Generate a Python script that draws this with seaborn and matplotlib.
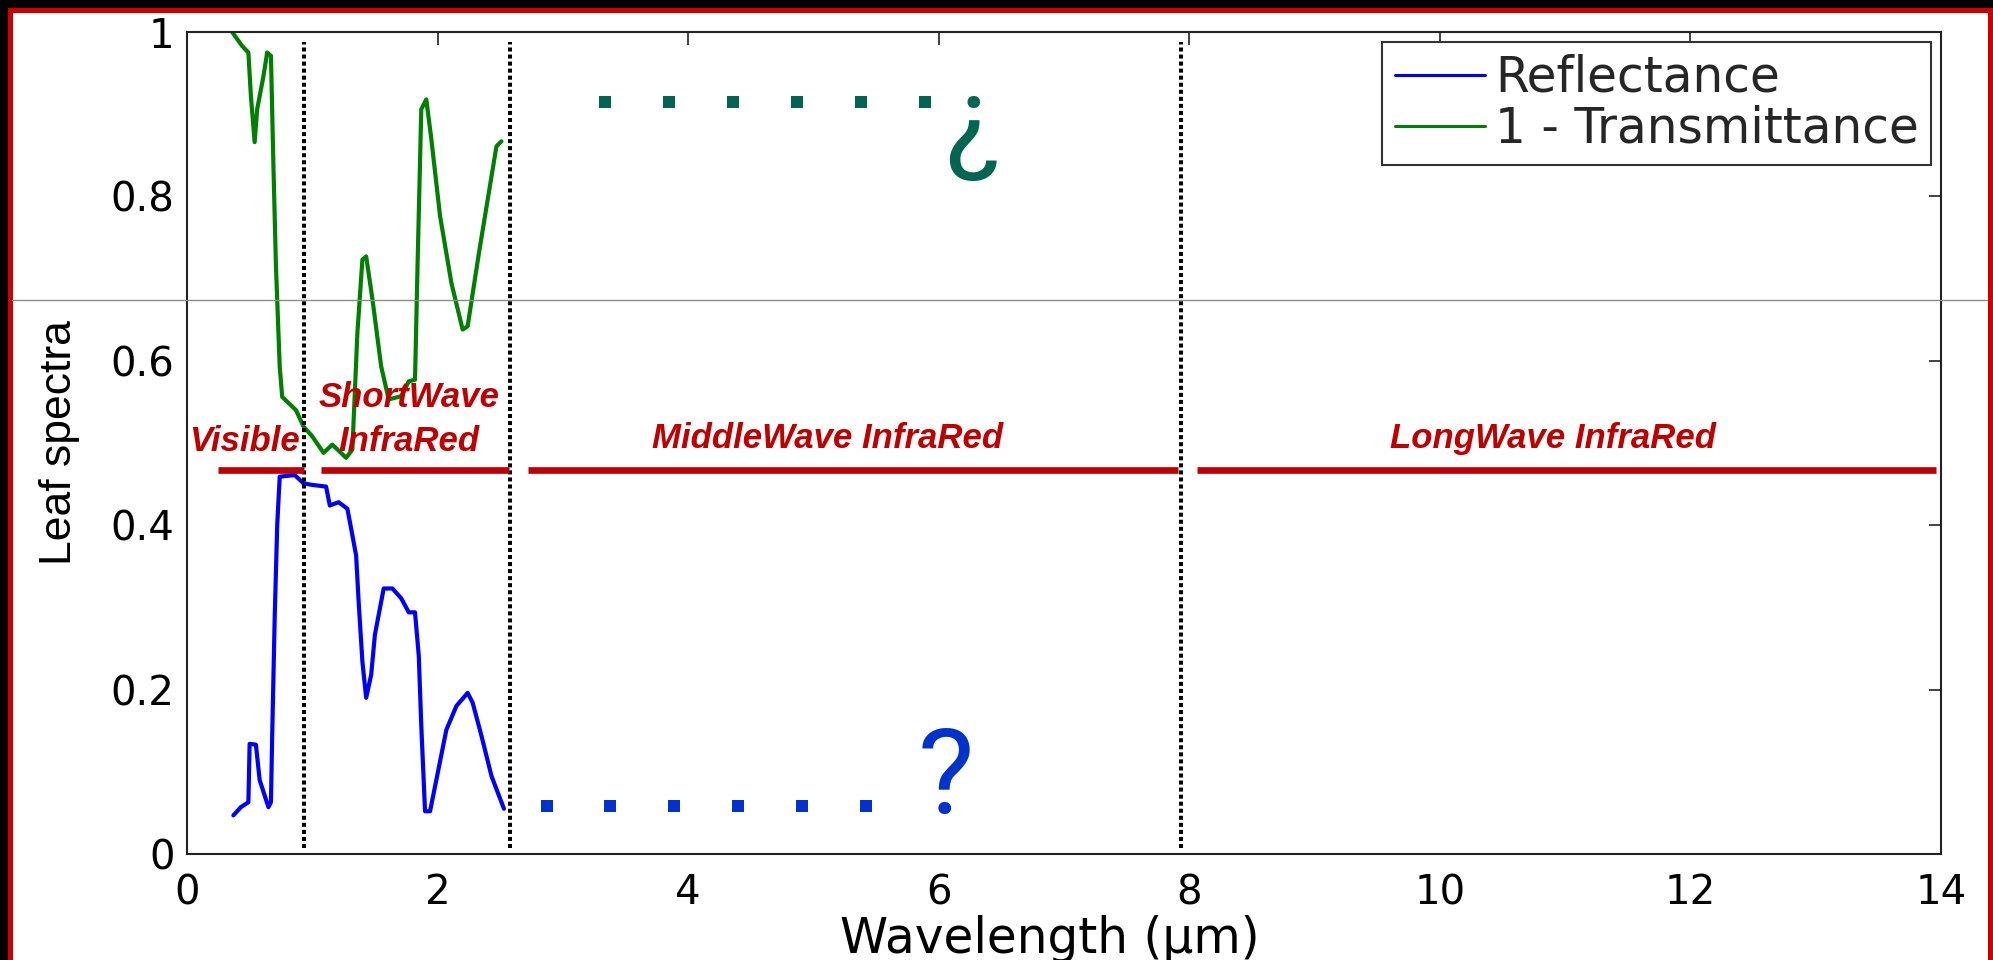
import matplotlib
matplotlib.use("Agg")
import matplotlib.pyplot as plt
import seaborn as sns
import pandas as pd
from matplotlib.patches import Rectangle
from matplotlib.lines import Line2D

# Reflectance (blue)
refl_wl = [0.37, 0.43, 0.49, 0.50, 0.55, 0.58, 0.65, 0.67, 0.68, 0.70, 0.72, 0.74,
           0.86, 0.93, 1.00, 1.11, 1.14, 1.21, 1.28, 1.31, 1.35, 1.37, 1.40, 1.43,
           1.47, 1.50, 1.57, 1.64, 1.71, 1.77, 1.82, 1.85, 1.87, 1.90, 1.94, 1.99,
           2.07, 2.15, 2.24, 2.28, 2.35, 2.43, 2.53]
refl_val = [0.047, 0.057, 0.063, 0.134, 0.133, 0.090, 0.057, 0.063, 0.144, 0.288, 0.400, 0.459,
            0.461, 0.451, 0.449, 0.447, 0.424, 0.428, 0.420, 0.396, 0.363, 0.307, 0.234, 0.190,
            0.218, 0.267, 0.323, 0.323, 0.311, 0.294, 0.294, 0.241, 0.156, 0.052, 0.052, 0.090,
            0.151, 0.180, 0.196, 0.184, 0.144, 0.095, 0.055]

# 1 - Transmittance (green)
absn_wl = [0.36, 0.44, 0.49, 0.51, 0.54, 0.56, 0.61, 0.64, 0.67, 0.69, 0.71, 0.74, 0.76,
           0.87, 0.93, 1.00, 1.09, 1.16, 1.27, 1.32, 1.36, 1.40, 1.43, 1.48, 1.55, 1.61,
           1.71, 1.77, 1.82, 1.84, 1.87, 1.91, 1.95, 2.02, 2.11, 2.20, 2.24, 2.33, 2.40,
           2.47, 2.51]
absn_val = [1.000, 0.983, 0.975, 0.922, 0.866, 0.906, 0.946, 0.975, 0.971, 0.836, 0.715, 0.593, 0.556,
            0.540, 0.520, 0.508, 0.488, 0.498, 0.482, 0.492, 0.634, 0.723, 0.727, 0.675, 0.593, 0.553,
            0.557, 0.575, 0.577, 0.715, 0.906, 0.918, 0.870, 0.776, 0.695, 0.638, 0.642, 0.731, 0.796,
            0.861, 0.867]

# spectral domains
band_edges = [0.93, 2.58, 7.93]
bar_start = [0.25, 1.07, 2.72, 8.06]
bar_end = [0.93, 2.57, 7.91, 13.96]
bar_level = 0.467
band_labels = ["Visible", "ShortWave", "InfraRed", "MiddleWave InfraRed", "LongWave InfraRed"]
band_label_x = [0.46, 1.77, 1.77, 5.11, 10.9]
band_label_y = [0.490, 0.544, 0.490, 0.494, 0.494]

# unknown part of the spectra
refl_dots_x = [2.87, 3.38, 3.89, 4.40, 4.91, 5.42]
refl_dots_y = [0.058] * 6
absn_dots_x = [3.34, 3.85, 4.36, 4.87, 5.38, 5.89]
absn_dots_y = [0.915] * 6
qmark_pos = (6.06, 0.05)
inv_qmark_pos = (6.27, 0.845)

xticks = [0, 2, 4, 6, 8, 10, 12, 14]
yticks = [0, 0.2, 0.4, 0.6, 0.8, 1.0]
ytick_labels = ["0", "0.2", "0.4", "0.6", "0.8", "1"]

W, H = 1993, 960

sns.set_theme(style="white")
plt.rcParams['font.family'] = ['DejaVu Sans']

fig = plt.figure(figsize=(W / 100, H / 100), dpi=100, facecolor="black")
# white slide with red frame
fig.patches.append(Rectangle((9.5 / W, -0.05), (1989.5 - 9.5) / W, 1.05 - 9.5 / H,
                             transform=fig.transFigure, facecolor="white",
                             edgecolor="#cc0000", linewidth=3.6, zorder=-10))

ax = fig.add_axes([187 / W, 1 - 854 / H, (1941 - 187) / W, (854 - 32) / H])
ax.set_facecolor("white")

refl_df = pd.DataFrame({"wl": refl_wl, "val": refl_val})
absn_df = pd.DataFrame({"wl": absn_wl, "val": absn_val})
sns.lineplot(data=refl_df, x="wl", y="val", color="#0000ff", lw=3.0, sort=False,
             estimator=None, label="Reflectance", ax=ax)
sns.lineplot(data=absn_df, x="wl", y="val", color="#008000", lw=3.0, sort=False,
             estimator=None, label="1 - Transmittance", ax=ax)

ax.vlines(band_edges, 0.007, 0.988, colors="black", linestyles=(0, (1, 0.75)), lw=2.9)
ax.hlines([bar_level] * len(bar_start), bar_start, bar_end, colors="#c00000", lw=4.8)

for txt, x, y in zip(band_labels, band_label_x, band_label_y):
    ax.text(x, y, txt, ha="center", va="baseline", color="#c00000",
            family="Liberation Sans", weight="bold", style="italic", fontsize=25)

sns.scatterplot(x=refl_dots_x, y=refl_dots_y, marker="s", s=74, color="#0033cc",
                linewidth=0, legend=False, ax=ax)
sns.scatterplot(x=absn_dots_x, y=absn_dots_y, marker="s", s=74, color="#006650",
                linewidth=0, legend=False, ax=ax)
ax.text(qmark_pos[0], qmark_pos[1], "?", ha="center", va="baseline", color="#0033cc",
        family=["Roboto", "Liberation Sans"], fontsize=86)
ax.text(inv_qmark_pos[0], inv_qmark_pos[1], "\u00bf", ha="center", va="baseline",
        color="#006650", family=["Roboto", "Liberation Sans"], fontsize=84)

ax.set_xlim(0, 14)
ax.set_ylim(0, 1)
ax.set_xticks(xticks)
ax.set_xticklabels([str(t) for t in xticks])
ax.set_yticks(yticks)
ax.set_yticklabels(ytick_labels)
ax.tick_params(direction="in", top=True, right=True, length=9, width=1.2,
               color="#222222", labelsize=29, labelcolor="black")
ax.tick_params(axis="x", pad=14)
ax.tick_params(axis="y", pad=9)
for sp in ax.spines.values():
    sp.set_visible(True)
    sp.set_color("#222222")
    sp.set_linewidth(1.5)

ax.set_xlabel("Wavelength (\u00b5m)", fontsize=35, color="black")
ax.xaxis.set_label_coords(0.492, -0.074)
ax.set_ylabel("Leaf spectra", fontsize=32, color="black",
              family=["Liberation Sans Narrow", "Liberation Sans"])
ax.yaxis.set_label_coords(-0.061, 0.5)

handles, labels = ax.get_legend_handles_labels()
leg = ax.legend(handles, labels, loc="upper right", bbox_to_anchor=(1, 1),
                borderaxespad=0.2, fancybox=False, framealpha=1, edgecolor="#333333",
                handlelength=1.85, handletextpad=0.22, labelspacing=0.06, borderpad=0.25,
                prop={"family": "DejaVu Sans", "size": 35})
leg.get_frame().set_linewidth(1.5)
for h in leg.get_lines():
    h.set_linewidth(2.2)

# thin grey guide line across the slide
fig.add_artist(Line2D([12 / W, 1987 / W], [1 - 300 / H, 1 - 300 / H],
                      transform=fig.transFigure, color="#8c8c8c", lw=1.0, zorder=10))

fig.savefig("out.png", dpi=100, facecolor=fig.get_facecolor())
